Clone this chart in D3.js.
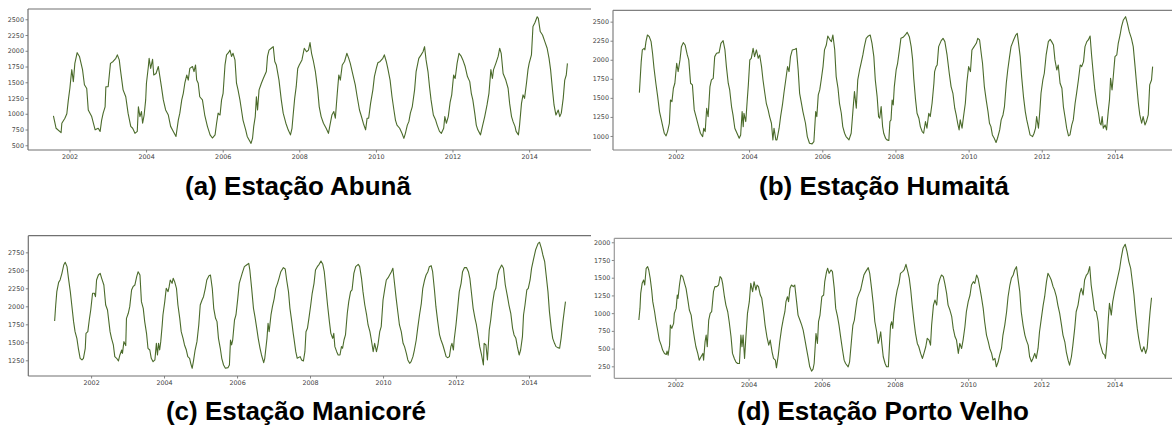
<!DOCTYPE html>
<html>
<head>
<meta charset="utf-8">
<script src="https://cdn.jsdelivr.net/npm/d3@7"></script>
<style>
  body { margin: 0; background: #fff; }
  svg { display: block; }
</style>
</head>
<body>
<svg id="chart" width="1172" height="427"></svg>
<script>
// Series: [decimal year, value]
var abunaData = [
  [2001.58,966],[2001.65,770],[2001.78,700],[2001.80,850],[2001.88,930],[2001.93,1000],[2001.97,1220],[2002.01,1405],[2002.04,1590],[2002.06,1700],[2002.10,1510],[2002.14,1800],[2002.20,1970],[2002.26,1910],[2002.29,1830],[2002.34,1700],[2002.39,1460],[2002.45,1400],[2002.49,1060],[2002.58,955],[2002.67,745],[2002.75,770],[2002.80,720],[2002.84,900],[2002.88,1010],[2002.93,1110],[2002.95,1430],[2003.01,1430],[2003.07,1800],[2003.14,1830],[2003.21,1880],[2003.25,1935],[2003.30,1855],[2003.33,1700],[2003.40,1380],[2003.47,1270],[2003.53,1010],[2003.60,800],[2003.65,770],[2003.71,690],[2003.77,720],[2003.80,1110],[2003.84,955],[2003.88,1035],[2003.91,850],[2003.95,980],[2003.99,1220],
  [2004.01,1485],[2004.06,1750],[2004.08,1880],[2004.12,1720],[2004.17,1865],[2004.20,1615],[2004.26,1640],[2004.32,1750],[2004.36,1590],[2004.40,1430],[2004.45,1220],[2004.51,1060],[2004.58,980],[2004.64,800],[2004.71,720],[2004.78,640],[2004.84,900],[2004.88,1010],[2004.93,1220],[2004.97,1325],[2005.01,1485],[2005.06,1615],[2005.10,1535],[2005.14,1720],[2005.21,1750],[2005.25,1670],[2005.29,1775],[2005.32,1535],[2005.36,1485],[2005.40,1270],[2005.47,1220],[2005.53,980],[2005.60,800],[2005.67,665],[2005.73,615],[2005.80,665],[2005.84,850],[2005.88,1010],[2005.93,980],[2005.97,1220],
  [2006.01,1325],[2006.06,1775],[2006.10,1935],[2006.15,1970],[2006.19,2010],[2006.23,1910],[2006.27,1960],[2006.32,1855],[2006.36,1485],[2006.40,1380],[2006.45,1220],[2006.49,1060],[2006.53,900],[2006.60,745],[2006.64,640],[2006.69,585],[2006.74,530],[2006.78,615],[2006.81,800],[2006.85,955],[2006.88,1270],[2006.91,1060],[2006.95,1380],[2007.01,1485],[2007.06,1560],[2007.10,1615],[2007.14,1670],[2007.17,1910],[2007.21,2010],[2007.27,2040],[2007.32,2065],[2007.36,1830],[2007.40,1775],[2007.47,1535],[2007.53,1220],[2007.58,1010],[2007.65,850],[2007.71,745],[2007.77,665],[2007.81,770],[2007.84,980],[2007.88,1245],[2007.92,1430],[2007.96,1720],
  [2008.00,1775],[2008.07,1855],[2008.13,2040],[2008.19,1985],[2008.24,2010],[2008.28,2130],[2008.32,1960],[2008.37,1830],[2008.42,1670],[2008.48,1380],[2008.52,1110],[2008.57,955],[2008.63,850],[2008.70,770],[2008.76,690],[2008.80,820],[2008.85,980],[2008.90,1035],[2008.94,930],[2008.99,1325],[2009.03,1615],[2009.07,1535],[2009.12,1775],[2009.18,1830],[2009.24,1960],[2009.29,1880],[2009.33,1800],[2009.39,1640],[2009.46,1460],[2009.51,1270],[2009.57,1060],[2009.61,980],[2009.67,850],[2009.73,745],[2009.77,930],[2009.81,930],[2009.86,1165],[2009.92,1380],[2009.96,1590],
  [2010.01,1720],[2010.05,1810],[2010.11,1830],[2010.18,1880],[2010.22,1935],[2010.27,1830],[2010.31,1720],[2010.37,1535],[2010.42,1270],[2010.47,1060],[2010.51,900],[2010.55,820],[2010.62,770],[2010.68,690],[2010.73,610],[2010.77,690],[2010.82,820],[2010.86,875],[2010.90,1010],[2010.95,1115],[2011.01,1380],[2011.05,1670],[2011.12,1880],[2011.18,1935],[2011.23,1985],[2011.27,2065],[2011.31,1855],[2011.36,1670],[2011.40,1430],[2011.44,1220],[2011.50,980],[2011.56,900],[2011.60,820],[2011.66,720],[2011.71,690],[2011.77,770],[2011.80,955],[2011.84,850],[2011.89,955],[2011.94,1190],[2011.98,1300],
  [2012.03,1615],[2012.07,1560],[2012.12,1800],[2012.17,1960],[2012.23,1910],[2012.27,1855],[2012.33,1750],[2012.39,1590],[2012.45,1510],[2012.49,1325],[2012.53,1220],[2012.58,1010],[2012.62,820],[2012.66,745],[2012.73,665],[2012.78,800],[2012.84,955],[2012.90,1140],[2012.95,1325],[2013.00,1700],[2013.04,1560],[2013.07,1700],[2013.13,1800],[2013.19,1910],[2013.23,2040],[2013.27,1960],[2013.32,1640],[2013.39,1535],[2013.45,1405],[2013.49,1165],[2013.54,955],[2013.58,875],[2013.63,800],[2013.66,720],[2013.72,665],[2013.75,820],[2013.80,1165],[2013.84,1300],[2013.88,1245],[2013.93,1485],[2013.97,1700],
  [2014.00,1800],[2014.06,1935],[2014.10,2385],[2014.15,2445],[2014.21,2540],[2014.24,2515],[2014.29,2305],[2014.35,2250],[2014.41,2145],[2014.47,2040],[2014.52,1880],[2014.56,1700],[2014.61,1380],[2014.65,1140],[2014.70,980],[2014.76,1060],[2014.80,955],[2014.84,1010],[2014.89,1245],[2014.93,1535],[2014.97,1615],[2015.00,1800]
];

var humaitaData = [
  [2001.00,1569],[2001.02,1735],[2001.05,1976],[2001.08,2129],[2001.13,2150],[2001.15,2130],[2001.18,2238],[2001.22,2325],[2001.27,2303],[2001.32,2238],[2001.36,2085],[2001.40,1888],[2001.45,1692],[2001.50,1517],[2001.55,1320],[2001.59,1233],[2001.64,1123],[2001.68,1036],[2001.73,1001],[2001.77,1058],[2001.82,1167],[2001.85,1473],[2001.89,1451],[2001.93,1626],[2001.97,1692],
  [2002.02,1954],[2002.06,1845],[2002.11,1998],[2002.15,2172],[2002.20,2225],[2002.25,2194],[2002.31,2063],[2002.35,1998],[2002.40,1692],[2002.45,1670],[2002.50,1342],[2002.56,1233],[2002.62,1123],[2002.67,1036],[2002.73,992],[2002.76,1102],[2002.80,1058],[2002.84,1364],[2002.88,1254],[2002.93,1648],[2002.97,1735],
  [2003.02,1757],[2003.06,2041],[2003.11,2085],[2003.18,2094],[2003.23,2216],[2003.29,2251],[2003.34,2129],[2003.38,1910],[2003.43,1692],[2003.47,1604],[2003.52,1386],[2003.56,1276],[2003.61,1102],[2003.67,1036],[2003.73,970],[2003.77,1014],[2003.81,1320],[2003.84,1123],[2003.86,1298],[2003.91,1189],[2003.95,1473],[2003.98,1670],
  [2004.02,1998],[2004.06,2019],[2004.11,2150],[2004.15,2041],[2004.20,2129],[2004.25,2019],[2004.29,2063],[2004.34,1910],[2004.38,1735],[2004.43,1560],[2004.47,1429],[2004.52,1342],[2004.56,1254],[2004.61,1167],[2004.65,949],[2004.68,1102],[2004.73,949],[2004.76,949],[2004.82,1102],[2004.86,1254],[2004.91,1407],[2004.95,1560],
  [2005.00,1735],[2005.05,1910],[2005.09,1845],[2005.13,2041],[2005.18,2129],[2005.25,2137],[2005.29,2150],[2005.34,1866],[2005.38,1560],[2005.43,1429],[2005.47,1320],[2005.54,1167],[2005.59,992],[2005.65,905],[2005.72,896],[2005.77,927],[2005.82,1320],[2005.85,1254],[2005.89,1539],[2005.93,1604],[2005.97,1735],
  [2006.02,1910],[2006.06,2129],[2006.11,2194],[2006.15,2312],[2006.20,2268],[2006.25,2238],[2006.29,2325],[2006.34,2129],[2006.38,1779],[2006.43,1626],[2006.47,1429],[2006.52,1298],[2006.56,1123],[2006.61,1036],[2006.65,992],[2006.73,949],[2006.79,1036],[2006.84,1342],[2006.88,1582],[2006.93,1364],[2006.97,1735],
  [2007.02,1866],[2007.06,1954],[2007.11,2063],[2007.15,2172],[2007.20,2281],[2007.26,2312],[2007.31,2325],[2007.36,2216],[2007.41,2041],[2007.45,1735],[2007.50,1517],[2007.54,1254],[2007.57,1233],[2007.61,1386],[2007.65,1123],[2007.68,1036],[2007.73,970],[2007.77,949],[2007.82,940],[2007.85,1189],[2007.88,1211],[2007.91,1473],[2007.94,1407],[2007.97,1648],
  [2008.02,1866],[2008.06,1954],[2008.11,2129],[2008.15,2281],[2008.21,2295],[2008.27,2325],[2008.32,2360],[2008.38,2303],[2008.43,2172],[2008.47,1998],[2008.50,1757],[2008.55,1473],[2008.59,1298],[2008.64,1233],[2008.68,1123],[2008.73,1058],[2008.77,1036],[2008.82,1189],[2008.86,1102],[2008.91,1298],[2008.95,1254],
  [2009.00,1429],[2009.05,1692],[2009.07,1845],[2009.11,1910],[2009.14,1932],[2009.18,2172],[2009.25,2251],[2009.30,2281],[2009.35,2238],[2009.41,2063],[2009.47,1823],[2009.52,1648],[2009.57,1560],[2009.62,1364],[2009.66,1276],[2009.70,1167],[2009.74,1080],[2009.77,1211],[2009.82,1102],[2009.86,1254],[2009.91,1429],[2009.95,1692],
  [2010.00,1910],[2010.05,1845],[2010.09,2129],[2010.15,2172],[2010.21,2216],[2010.25,2281],[2010.30,2260],[2010.35,2063],[2010.38,1954],[2010.43,1648],[2010.48,1473],[2010.53,1320],[2010.57,1167],[2010.61,1123],[2010.65,1014],[2010.70,970],[2010.75,914],[2010.79,970],[2010.85,1080],[2010.89,1211],[2010.94,1276],[2010.98,1386],
  [2011.03,1692],[2011.07,1866],[2011.12,2041],[2011.16,2172],[2011.23,2260],[2011.29,2325],[2011.33,2347],[2011.36,2238],[2011.41,2041],[2011.45,1779],[2011.50,1517],[2011.55,1320],[2011.59,1211],[2011.64,1102],[2011.68,1014],[2011.75,992],[2011.79,1036],[2011.83,1102],[2011.86,1254],[2011.91,1102],[2011.95,1342],[2011.98,1560],
  [2012.03,1735],[2012.07,1823],[2012.12,2063],[2012.18,2238],[2012.23,2268],[2012.27,2238],[2012.32,2194],[2012.36,1998],[2012.41,1866],[2012.45,1932],[2012.50,1692],[2012.55,1626],[2012.59,1386],[2012.64,1233],[2012.68,1102],[2012.73,1001],[2012.77,1014],[2012.82,1145],[2012.86,1211],[2012.91,1429],[2012.95,1560],
  [2013.00,1735],[2013.05,1932],[2013.09,1910],[2013.14,1976],[2013.18,2172],[2013.23,2238],[2013.27,2260],[2013.32,2312],[2013.36,2063],[2013.41,1801],[2013.45,1604],[2013.50,1429],[2013.55,1298],[2013.59,1167],[2013.62,1145],[2013.65,1254],[2013.68,1102],[2013.73,1145],[2013.77,1080],[2013.82,1342],[2013.85,1473],[2013.88,1757],[2013.92,1604],[2013.95,1757],
  [2014.00,2041],[2014.05,2063],[2014.09,2216],[2014.14,2325],[2014.18,2434],[2014.23,2522],[2014.29,2565],[2014.34,2478],[2014.39,2369],[2014.45,2281],[2014.50,2172],[2014.55,1910],[2014.59,1692],[2014.64,1429],[2014.68,1276],[2014.73,1167],[2014.77,1254],[2014.82,1145],[2014.86,1189],[2014.91,1276],[2014.95,1670],[2015.00,1735],[2015.03,1910]
];

var manicoreData = [
  [2001.00,1796],[2001.03,2018],[2001.06,2204],[2001.11,2333],[2001.15,2366],[2001.20,2458],[2001.25,2574],[2001.29,2611],[2001.34,2551],[2001.38,2389],[2001.43,2204],[2001.47,2018],[2001.52,1787],[2001.56,1648],[2001.61,1555],[2001.65,1417],[2001.70,1278],[2001.75,1255],[2001.79,1278],[2001.84,1417],[2001.86,1625],[2001.91,1648],[2001.95,1810],[2001.99,1949],
  [2002.04,2181],[2002.09,2181],[2002.12,2134],[2002.15,2366],[2002.20,2435],[2002.25,2458],[2002.29,2389],[2002.35,2296],[2002.40,2018],[2002.45,1949],[2002.52,1648],[2002.56,1555],[2002.61,1463],[2002.65,1301],[2002.70,1278],[2002.75,1241],[2002.79,1324],[2002.84,1393],[2002.86,1347],[2002.90,1509],[2002.95,1454],[2002.97,1833],
  [2003.02,1903],[2003.06,1995],[2003.11,2227],[2003.15,2273],[2003.20,2296],[2003.25,2412],[2003.29,2481],[2003.34,2435],[2003.38,2065],[2003.43,1972],[2003.47,1787],[2003.52,1625],[2003.56,1417],[2003.61,1393],[2003.65,1278],[2003.70,1231],[2003.75,1255],[2003.79,1486],[2003.82,1324],[2003.85,1486],[2003.88,1393],[2003.91,1509],[2003.95,1741],[2003.97,1880],
  [2004.02,2065],[2004.06,2250],[2004.11,2204],[2004.14,2273],[2004.17,2366],[2004.22,2319],[2004.25,2389],[2004.29,2343],[2004.34,2250],[2004.38,2018],[2004.43,1833],[2004.47,1648],[2004.52,1555],[2004.56,1463],[2004.61,1393],[2004.65,1301],[2004.70,1278],[2004.73,1208],[2004.77,1139],[2004.81,1255],[2004.85,1393],[2004.90,1509],[2004.95,1741],[2004.99,2018],
  [2005.04,2088],[2005.08,2134],[2005.13,2250],[2005.17,2366],[2005.23,2426],[2005.27,2435],[2005.32,2250],[2005.36,1972],[2005.41,1833],[2005.45,1787],[2005.49,1555],[2005.54,1417],[2005.58,1278],[2005.63,1185],[2005.68,1139],[2005.75,1148],[2005.79,1185],[2005.82,1532],[2005.85,1463],[2005.88,1532],[2005.93,1810],[2005.97,1880],
  [2006.02,2111],[2006.06,2319],[2006.14,2458],[2006.20,2551],[2006.26,2574],[2006.32,2597],[2006.35,2505],[2006.40,2250],[2006.45,1972],[2006.49,1856],[2006.54,1694],[2006.58,1555],[2006.63,1417],[2006.67,1324],[2006.73,1218],[2006.76,1278],[2006.82,1555],[2006.85,1764],[2006.88,1648],[2006.93,1880],[2006.97,1995],
  [2007.02,2111],[2007.06,2250],[2007.11,2319],[2007.15,2389],[2007.20,2481],[2007.27,2537],[2007.32,2519],[2007.36,2366],[2007.41,2204],[2007.45,1972],[2007.50,1787],[2007.54,1625],[2007.56,1555],[2007.61,1370],[2007.65,1278],[2007.73,1301],[2007.77,1255],[2007.82,1241],[2007.86,1370],[2007.89,1648],[2007.93,1694],[2007.97,1833],
  [2008.02,2018],[2008.06,2181],[2008.11,2319],[2008.15,2505],[2008.20,2551],[2008.25,2583],[2008.30,2630],[2008.35,2583],[2008.39,2481],[2008.44,2227],[2008.48,2018],[2008.53,1787],[2008.57,1625],[2008.62,1555],[2008.65,1625],[2008.68,1440],[2008.73,1370],[2008.77,1324],[2008.82,1324],[2008.86,1440],[2008.89,1417],[2008.93,1532],[2008.97,1602],
  [2009.02,1903],[2009.06,2065],[2009.11,2204],[2009.15,2227],[2009.20,2458],[2009.25,2551],[2009.32,2583],[2009.36,2551],[2009.41,2389],[2009.45,2204],[2009.50,2018],[2009.55,1880],[2009.59,1741],[2009.64,1648],[2009.68,1532],[2009.73,1370],[2009.77,1486],[2009.82,1370],[2009.86,1463],[2009.91,1648],[2009.95,1718],
  [2010.00,2088],[2010.05,2250],[2010.09,2366],[2010.14,2398],[2010.18,2435],[2010.23,2481],[2010.27,2528],[2010.32,2296],[2010.36,2111],[2010.41,1903],[2010.45,1741],[2010.50,1648],[2010.55,1486],[2010.59,1440],[2010.64,1347],[2010.68,1255],[2010.73,1208],[2010.77,1231],[2010.82,1301],[2010.86,1393],[2010.91,1532],[2010.95,1694],
  [2011.00,1880],[2011.05,2042],[2011.09,2250],[2011.14,2366],[2011.18,2435],[2011.23,2481],[2011.27,2551],[2011.32,2565],[2011.36,2481],[2011.41,2227],[2011.45,1995],[2011.50,1787],[2011.55,1602],[2011.59,1532],[2011.64,1463],[2011.68,1393],[2011.73,1301],[2011.77,1287],[2011.82,1301],[2011.86,1440],[2011.89,1486],[2011.93,1393],[2011.95,1532],
  [2012.00,1741],[2012.05,1995],[2012.09,2204],[2012.14,2319],[2012.18,2481],[2012.23,2537],[2012.29,2537],[2012.34,2481],[2012.38,2389],[2012.43,2157],[2012.47,1972],[2012.52,1833],[2012.56,1741],[2012.61,1579],[2012.65,1440],[2012.70,1324],[2012.75,1185],[2012.77,1486],[2012.82,1463],[2012.86,1255],[2012.91,1671],[2012.95,1810],
  [2013.00,2042],[2013.05,2204],[2013.09,2250],[2013.14,2435],[2013.18,2505],[2013.25,2574],[2013.30,2528],[2013.35,2296],[2013.41,2134],[2013.45,2018],[2013.50,1903],[2013.55,1694],[2013.59,1602],[2013.64,1555],[2013.68,1440],[2013.73,1324],[2013.77,1393],[2013.82,1579],[2013.85,1880],[2013.89,2018],[2013.94,2227],[2013.98,2250],
  [2014.03,2366],[2014.07,2528],[2014.12,2644],[2014.18,2782],[2014.25,2875],[2014.29,2889],[2014.34,2806],[2014.38,2713],[2014.43,2620],[2014.47,2435],[2014.52,2204],[2014.56,1926],[2014.61,1694],[2014.65,1555],[2014.70,1486],[2014.74,1440],[2014.79,1426],[2014.84,1417],[2014.88,1555],[2014.93,1787],[2014.97,1949],[2015.00,2065]
];

var portoVelhoData = [
  [2001.00,903],[2001.03,1067],[2001.05,1279],[2001.09,1421],[2001.13,1468],[2001.16,1397],[2001.20,1633],[2001.24,1656],[2001.27,1609],[2001.31,1491],[2001.35,1326],[2001.38,1162],[2001.43,1020],[2001.47,879],[2001.52,738],[2001.56,620],[2001.61,549],[2001.65,479],[2001.70,432],[2001.75,417],[2001.77,465],[2001.80,408],[2001.84,549],[2001.86,832],[2001.90,785],[2001.95,855],[2001.97,997],
  [2002.02,1067],[2002.05,1256],[2002.07,1209],[2002.11,1397],[2002.15,1538],[2002.20,1515],[2002.25,1421],[2002.29,1350],[2002.34,1185],[2002.38,1044],[2002.43,973],[2002.47,808],[2002.52,644],[2002.56,526],[2002.61,432],[2002.65,337],[2002.70,385],[2002.75,432],[2002.77,337],[2002.81,596],[2002.84,691],[2002.87,526],[2002.91,903],[2002.95,997],[2002.99,1020],
  [2003.04,1303],[2003.08,1374],[2003.13,1374],[2003.18,1397],[2003.22,1515],[2003.26,1491],[2003.29,1421],[2003.34,1232],[2003.38,1114],[2003.43,1020],[2003.47,879],[2003.52,667],[2003.56,432],[2003.61,361],[2003.65,314],[2003.70,290],[2003.75,290],[2003.79,691],[2003.82,526],[2003.85,691],[2003.89,361],[2003.93,691],[2003.97,997],
  [2004.02,1162],[2004.06,1421],[2004.11,1303],[2004.15,1444],[2004.20,1326],[2004.23,1397],[2004.27,1374],[2004.32,1256],[2004.36,1209],[2004.41,1020],[2004.45,832],[2004.50,667],[2004.55,549],[2004.59,620],[2004.64,455],[2004.68,361],[2004.73,337],[2004.76,229],[2004.81,408],[2004.85,596],[2004.90,785],[2004.95,926],[2004.99,1020],
  [2005.02,1162],[2005.06,1232],[2005.09,1162],[2005.13,1350],[2005.17,1397],[2005.22,1374],[2005.26,1397],[2005.31,1162],[2005.35,973],[2005.40,903],[2005.45,832],[2005.49,761],[2005.54,620],[2005.58,502],[2005.63,361],[2005.67,243],[2005.72,182],[2005.76,210],[2005.79,290],[2005.84,714],[2005.88,573],[2005.91,879],[2005.95,973],
  [2006.00,1232],[2006.05,1256],[2006.08,1444],[2006.13,1586],[2006.16,1633],[2006.20,1562],[2006.25,1609],[2006.29,1586],[2006.34,1350],[2006.38,1067],[2006.43,950],[2006.47,832],[2006.52,644],[2006.56,502],[2006.61,337],[2006.65,290],[2006.72,243],[2006.76,314],[2006.82,667],[2006.85,832],[2006.89,903],[2006.93,1067],[2006.97,1209],
  [2007.02,1279],[2007.06,1326],[2007.11,1444],[2007.15,1538],[2007.20,1586],[2007.27,1642],[2007.31,1562],[2007.36,1350],[2007.41,1114],[2007.45,879],[2007.50,738],[2007.54,573],[2007.57,620],[2007.61,738],[2007.64,573],[2007.68,385],[2007.73,290],[2007.77,243],[2007.82,243],[2007.85,549],[2007.88,832],[2007.91,879],[2007.94,785],[2007.97,997],
  [2008.02,1209],[2008.06,1326],[2008.11,1421],[2008.15,1562],[2008.21,1586],[2008.25,1609],[2008.30,1689],[2008.35,1586],[2008.39,1491],[2008.43,1326],[2008.47,1114],[2008.52,879],[2008.56,714],[2008.61,573],[2008.65,526],[2008.70,432],[2008.75,361],[2008.79,432],[2008.84,526],[2008.88,644],[2008.93,620],[2008.97,549],
  [2009.00,832],[2009.05,1114],[2009.09,1185],[2009.14,1114],[2009.18,1397],[2009.23,1491],[2009.27,1538],[2009.32,1515],[2009.36,1421],[2009.41,1279],[2009.45,1114],[2009.50,1044],[2009.55,950],[2009.59,785],[2009.64,667],[2009.68,620],[2009.73,432],[2009.77,573],[2009.82,502],[2009.86,620],[2009.91,808],[2009.95,1020],
  [2010.00,1162],[2010.05,1256],[2010.09,1397],[2010.14,1444],[2010.18,1421],[2010.23,1538],[2010.27,1491],[2010.32,1350],[2010.36,1232],[2010.41,1067],[2010.45,879],[2010.50,691],[2010.55,596],[2010.59,502],[2010.64,432],[2010.68,337],[2010.73,361],[2010.77,243],[2010.82,314],[2010.86,408],[2010.91,502],[2010.95,691],
  [2011.00,832],[2011.05,1020],[2011.09,1232],[2011.14,1397],[2011.18,1491],[2011.23,1538],[2011.27,1609],[2011.32,1656],[2011.36,1491],[2011.41,1303],[2011.45,1020],[2011.50,832],[2011.55,691],[2011.59,620],[2011.64,549],[2011.68,385],[2011.73,314],[2011.77,361],[2011.82,432],[2011.86,361],[2011.91,502],[2011.95,738],
  [2012.00,926],[2012.05,1114],[2012.09,1232],[2012.14,1444],[2012.18,1562],[2012.23,1515],[2012.27,1468],[2012.32,1374],[2012.36,1326],[2012.41,1232],[2012.45,1114],[2012.50,997],[2012.55,832],[2012.59,691],[2012.64,596],[2012.68,455],[2012.73,337],[2012.77,267],[2012.82,385],[2012.86,549],[2012.91,785],[2012.95,1020],
  [2013.00,1114],[2013.05,1279],[2013.09,1350],[2013.14,1256],[2013.18,1468],[2013.23,1538],[2013.27,1562],[2013.32,1656],[2013.36,1397],[2013.41,1209],[2013.45,1044],[2013.50,1020],[2013.55,879],[2013.59,596],[2013.64,502],[2013.68,432],[2013.73,408],[2013.75,361],[2013.79,573],[2013.83,926],[2013.86,1138],[2013.91,973],[2013.95,1162],
  [2014.00,1303],[2014.05,1421],[2014.09,1515],[2014.14,1633],[2014.18,1774],[2014.23,1915],[2014.29,1972],[2014.34,1868],[2014.39,1727],[2014.44,1633],[2014.48,1468],[2014.53,1256],[2014.57,1020],[2014.62,785],[2014.66,644],[2014.71,502],[2014.75,455],[2014.80,526],[2014.85,432],[2014.89,502],[2014.94,832],[2014.97,1020],[2015.01,1218]
];

// Tick labels
var xTickYears = [2002, 2004, 2006, 2008, 2010, 2012, 2014];
var abunaYTicks = [500, 750, 1000, 1250, 1500, 1750, 2000, 2250, 2500];
var humaitaYTicks = [1000, 1250, 1500, 1750, 2000, 2250, 2500];
var manicoreYTicks = [1250, 1500, 1750, 2000, 2250, 2500, 2750];
var portoVelhoYTicks = [250, 500, 750, 1000, 1250, 1500, 1750, 2000];

// Titles
var titles = ["(a) Estação Abunã", "(b) Estação Humaitá", "(c) Estação Manicoré", "(d) Estação Porto Velho"];

// Panel layout (the right side of every panel is cut off, as in the original figure)
var panels = [
  { data: abunaData, yTicks: abunaYTicks, title: titles[0], left: 28, right: 591, top: 9, bottom: 150,
    xDomain: [2000.916, 2015.616], yDomain: [425, 2663], titleX: 298, titleY: 195, spine: "#707070" },
  { data: humaitaData, yTicks: humaitaYTicks, title: titles[1], left: 613, right: 1172, top: 10.3, bottom: 150,
    xDomain: [2000.28, 2015.56], yDomain: [816, 2649], titleX: 884, titleY: 195, spine: "#808080" },
  { data: manicoreData, yTicks: manicoreYTicks, title: titles[2], left: 28.3, right: 591, top: 235.7, bottom: 376,
    xDomain: [2000.28, 2015.70], yDomain: [1032, 2981], titleX: 296, titleY: 420, spine: "#707070" },
  { data: portoVelhoData, yTicks: portoVelhoYTicks, title: titles[3], left: 614.3, right: 1172, top: 238.3, bottom: 378.3,
    xDomain: [2000.33, 2015.57], yDomain: [81, 2056], titleX: 883, titleY: 420, spine: "#999999" }
];

// Decimal year -> Date
var toDate = function (v) {
  var yr = Math.floor(v);
  var start = new Date(yr, 0, 1), end = new Date(yr + 1, 0, 1);
  return new Date(+start + (v - yr) * (end - start));
};

var svg = d3.select("#chart");

panels.forEach(function (p) {

  // Scales
  var x = d3.scaleTime().domain(p.xDomain.map(toDate)).range([p.left, p.right]);
  var y = d3.scaleLinear().domain(p.yDomain).range([p.bottom, p.top]);

  var g = svg.append("g").attr("class", "panel");

  // X axis
  g.append("g")
    .attr("transform", `translate(0,${p.bottom})`)
    .call(d3.axisBottom(x)
      .tickValues(xTickYears.map(function (d) { return new Date(d, 0, 1); }))
      .tickFormat(d3.timeFormat("%Y"))
      .tickSize(2.5)
      .tickPadding(1.5))
    .call(function (a) { a.select(".domain").remove(); });

  // Y axis
  g.append("g")
    .attr("transform", `translate(${p.left},0)`)
    .call(d3.axisLeft(y)
      .tickValues(p.yTicks)
      .tickFormat(d3.format("d"))
      .tickSize(2.5)
      .tickPadding(1.5))
    .call(function (a) { a.select(".domain").remove(); });

  g.selectAll(".tick line").attr("stroke", "#666").attr("stroke-width", 0.8);
  g.selectAll(".tick text")
    .attr("fill", "#444")
    .style("font-family", "'DejaVu Sans', sans-serif")
    .style("font-size", "6.4px");

  // Spines: top, left, bottom
  var spines = [
    [p.left, p.top, p.right, p.top],
    [p.left, p.top, p.left, p.bottom],
    [p.left, p.bottom, p.right, p.bottom]
  ];
  g.selectAll("line.spine").data(spines).enter().append("line")
    .attr("class", "spine")
    .attr("x1", function (d) { return d[0]; })
    .attr("y1", function (d) { return d[1]; })
    .attr("x2", function (d) { return d[2]; })
    .attr("y2", function (d) { return d[3]; })
    .attr("stroke", p.spine)
    .attr("stroke-width", 1.2);

  // Series line
  var line = d3.line()
    .x(function (d) { return x(toDate(d[0])); })
    .y(function (d) { return y(d[1]); });

  g.append("path")
    .datum(p.data)
    .attr("d", line)
    .attr("fill", "none")
    .attr("stroke", "#4b6b2b")
    .attr("stroke-width", 1.1)
    .attr("stroke-linejoin", "round");

  // Caption
  g.append("text")
    .attr("x", p.titleX)
    .attr("y", p.titleY)
    .attr("text-anchor", "middle")
    .style("font-family", "'Liberation Sans', Arial, sans-serif")
    .style("font-weight", "bold")
    .style("font-size", "26px")
    .attr("fill", "#000")
    .text(p.title);
});
</script>
</body>
</html>
